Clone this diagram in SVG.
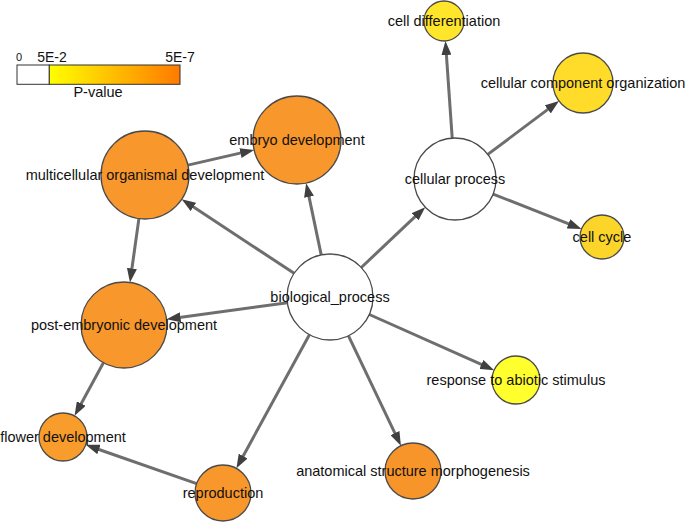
<svg xmlns="http://www.w3.org/2000/svg" width="685" height="523" viewBox="0 0 685 523">
<style>
.edge{stroke:#6e6e6e;stroke-width:3;fill:none;marker-end:url(#arr)}
.node{stroke:#4a4a4a;stroke-width:1.3}
.lbl{font-family:"Liberation Sans",Arial,sans-serif;font-size:14.5px;fill:#111;text-anchor:middle}
.leg{font-family:"Liberation Sans",Arial,sans-serif;fill:#111;text-anchor:middle}
.white{fill:#ffffff}
.orange{fill:#f8972b}
</style>
<defs>
<marker id="arr" markerUnits="userSpaceOnUse" markerWidth="14" markerHeight="10" refX="3" refY="5" orient="auto" viewBox="0 0 14 10">
<path d="M0,0 L14,5 L0,10 z" fill="#404040"/>
</marker>
<linearGradient id="grad" x1="0" y1="0" x2="1" y2="0">
<stop offset="0" stop-color="#ffff00"/>
<stop offset="1" stop-color="#ff7a00"/>
</linearGradient>
</defs>
<rect width="685" height="523" fill="#ffffff"/>

<g id="legend">
<rect x="17" y="65" width="32.3" height="19.3" fill="#ffffff" stroke="#333" stroke-width="1"/>
<rect x="49.3" y="65" width="130.7" height="19.3" fill="url(#grad)" stroke="#333" stroke-width="1"/>
<text class="leg" x="19" y="61" font-size="11">0</text>
<text class="leg" x="52" y="62" font-size="14">5E-2</text>
<text class="leg" x="180" y="62" font-size="14">5E-7</text>
<text class="leg" x="98" y="97" font-size="14.5">P-value</text>
</g>

<g id="connectors">
<line class="edge" x1="294.1" y1="273.3" x2="190.9" y2="205.3"/>
<line class="edge" x1="321.2" y1="254.9" x2="308.4" y2="193.9"/>
<line class="edge" x1="287.4" y1="302.8" x2="177.5" y2="317.7"/>
<line class="edge" x1="361.3" y1="267.5" x2="417.2" y2="214.7"/>
<line class="edge" x1="369.3" y1="314.5" x2="484.1" y2="365.7"/>
<line class="edge" x1="348.5" y1="335.8" x2="396.2" y2="435.8"/>
<line class="edge" x1="309.4" y1="334.7" x2="241.7" y2="458.7"/>
<line class="edge" x1="187.9" y1="165.1" x2="243.4" y2="152.4"/>
<line class="edge" x1="138.9" y1="218.6" x2="131.5" y2="271.5"/>
<line class="edge" x1="103.4" y1="362.8" x2="79.8" y2="406.2"/>
<line class="edge" x1="196.6" y1="483.7" x2="96.1" y2="448.5"/>
<line class="edge" x1="452.2" y1="138.1" x2="446.2" y2="52"/>
<line class="edge" x1="487.8" y1="154.4" x2="550.2" y2="107.6"/>
<line class="edge" x1="493.1" y1="194.1" x2="571.3" y2="224.9"/>
</g>

<g id="biological_process">
<circle class="node white" cx="330" cy="297" r="43"/>
<text class="lbl" x="330" y="302">biological_process</text>
</g>
<g id="cellular_process">
<circle class="node white" cx="455" cy="179" r="41"/>
<text class="lbl" x="455" y="184">cellular process</text>
</g>
<g id="cell_differentiation">
<circle class="node" fill="#ffe62a" cx="444" cy="21" r="20"/>
<text class="lbl" x="444" y="26">cell differentiation</text>
</g>
<g id="cellular_component_organization">
<circle class="node" fill="#ffdc2a" cx="583" cy="83" r="30"/>
<text class="lbl" x="583" y="88">cellular component organization</text>
</g>
<g id="cell_cycle">
<circle class="node" fill="#fcd52a" cx="602" cy="237" r="22"/>
<text class="lbl" x="602" y="242">cell cycle</text>
</g>
<g id="embryo_development">
<circle class="node orange" cx="297" cy="140" r="44"/>
<text class="lbl" x="297" y="145">embryo development</text>
</g>
<g id="multicellular_organismal_development">
<circle class="node orange" cx="145" cy="175" r="44"/>
<text class="lbl" x="145" y="180">multicellular organismal development</text>
</g>
<g id="post_embryonic_development">
<circle class="node orange" cx="124" cy="325" r="43"/>
<text class="lbl" x="124" y="330">post-embryonic development</text>
</g>
<g id="flower_development">
<circle class="node" fill="#f89d2b" cx="63" cy="437" r="24"/>
<text class="lbl" x="63" y="442">flower development</text>
</g>
<g id="reproduction">
<circle class="node orange" cx="223" cy="493" r="28"/>
<text class="lbl" x="223" y="498">reproduction</text>
</g>
<g id="anatomical_structure_morphogenesis">
<circle class="node" fill="#f7952a" cx="413" cy="471" r="28"/>
<text class="lbl" x="413" y="476">anatomical structure morphogenesis</text>
</g>
<g id="response_to_abiotic_stimulus">
<circle class="node" fill="#ffff2e" cx="516" cy="380" r="24"/>
<text class="lbl" x="516" y="385">response to abiotic stimulus</text>
</g>
</svg>
